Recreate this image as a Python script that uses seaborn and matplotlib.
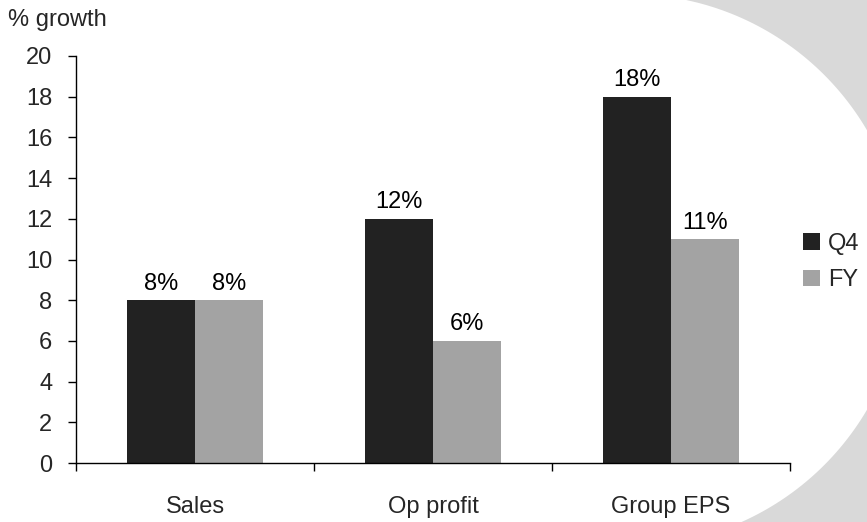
import numpy as np
import pandas as pd
import matplotlib
matplotlib.use("Agg")
import matplotlib.pyplot as plt
from matplotlib.patches import Polygon, Patch
import seaborn as sns

categories = ["Sales", "Op profit", "Group EPS"]
series = ["Q4", "FY"]
q4_values = [8, 12, 18]
fy_values = [8, 6, 11]
y_ticks = [0, 2, 4, 6, 8, 10, 12, 14, 16, 18, 20]

df = pd.DataFrame({
    "category": categories * 2,
    "series": ["Q4"] * 3 + ["FY"] * 3,
    "value": q4_values + fy_values,
})

sns.set_style("white")
plt.rcParams["font.family"] = ["Liberation Sans", "DejaVu Sans"]

W, H = 867, 522
fig = plt.figure(figsize=(W / 100, H / 100), dpi=100)
fig.patch.set_facecolor("white")

# background grey swoosh on the right
cx, cy, r = 629, 270, 276
ys = np.linspace(0, H, 200)
xs = cx + r * np.sqrt(np.clip(1 - ((ys - cy) / r) ** 2, 0, 1))
pts = [(x / W, 1 - y / H) for x, y in zip(xs, ys)]
pts += [(1.0, 0.0), (1.0, 1.0)]
fig.patches.append(Polygon(pts, closed=True, transform=fig.transFigure,
                           facecolor="#d9d9d9", edgecolor="none", zorder=0))

ax = fig.add_axes([76 / W, 1 - 463 / H, (790 - 76) / W, (463 - 56) / H])
ax.set_facecolor("none")

colors = {"Q4": "#222222", "FY": "#a3a3a3"}
sns.barplot(data=df, x="category", y="value", hue="series", hue_order=series,
            order=categories, palette=colors, width=0.57, saturation=1,
            gap=0, legend=False, ax=ax, edgecolor="none", linewidth=0)

FS = 17
for cont, vals in zip(ax.containers, [q4_values, fy_values]):
    ax.bar_label(cont, labels=[f"{v}%" for v in vals], padding=4, fontsize=FS,
                 color="black")

ax.set_ylim(0, 20)
ax.set_xlim(-0.5, 2.5)
ax.set_yticks(y_ticks)
ax.set_yticklabels([str(t) for t in y_ticks], fontsize=FS)
ax.set_xticks([0, 1, 2])
ax.set_xticklabels(categories, fontsize=FS)
ax.tick_params(axis="x", which="major", bottom=True, length=0, pad=24)
ax.set_xticks([-0.5, 0.5, 1.5, 2.5], minor=True)
ax.tick_params(axis="x", which="minor", bottom=True, length=6, width=1,
               color="black", direction="out")
ax.tick_params(axis="y", left=True, length=6, width=1, color="black",
               direction="out", pad=11)
ax.set_xlabel("")
ax.set_ylabel("")
for s in ["top", "right"]:
    ax.spines[s].set_visible(False)
for s in ["left", "bottom"]:
    ax.spines[s].set_color("black")
    ax.spines[s].set_linewidth(1)

fig.text(8 / W, 1 - 20 / H, "% growth", fontsize=FS, va="center", ha="left")

handles = [Patch(facecolor=colors[s], edgecolor="none", label=s) for s in series]
fig.legend(handles=handles, loc="center left", bbox_to_anchor=(803 / W, 1 - 262 / H),
           frameon=False, fontsize=FS, handlelength=0.72, handleheight=0.72,
           handletextpad=0.35, labelspacing=0.62, borderpad=0, borderaxespad=0)

fig.savefig("out.png", dpi=100, facecolor="white")
